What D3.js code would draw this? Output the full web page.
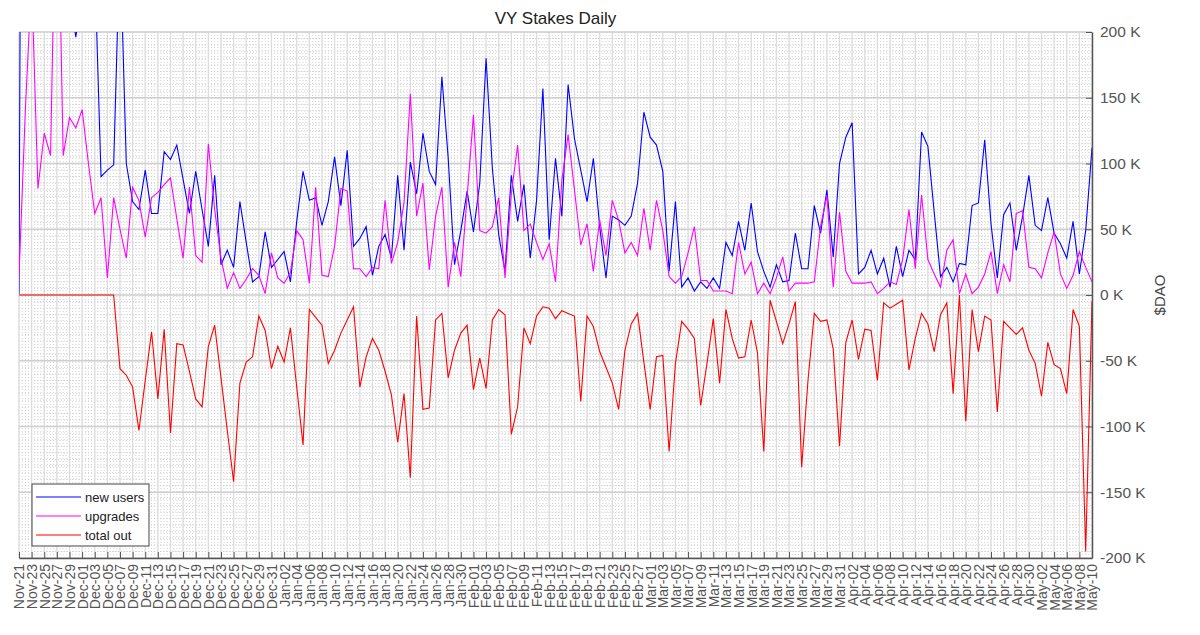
<!DOCTYPE html>
<html>
<head>
<meta charset="utf-8">
<script src="https://cdn.jsdelivr.net/npm/d3@7"></script>
<style>
  body { margin: 0; background: #fff; }
  svg { font-family: "Liberation Sans", Arial, sans-serif; }
</style>
</head>
<body>
<svg id="chart" width="1200" height="635"></svg>
<script>
// daily values in thousands of $DAO, Nov-21 .. May-10
const startDate = new Date(Date.UTC(2021, 10, 21))
const endDate = new Date(Date.UTC(2022, 4, 10))

const newUsers = [
  1, 1200, 900, 700, 600, 500, 450, 400, 230, 196,
  230, 300, 250, 90, 95, 99, 270, 100, 71, 65,
  95, 62, 62, 109, 103, 114, 88, 62, 94, 65,
  37, 91, 23, 34, 21, 71, 40, 10, 14, 48,
  21, 27, 33, 10, 56, 94, 72, 74, 53, 71,
  105, 68, 110, 37, 43, 52, 15, 37, 46, 28,
  91, 34, 101, 77, 123, 94, 84, 166, 104, 23,
  49, 79, 48, 85, 180, 96, 46, 18, 91, 56,
  84, 28, 72, 157, 42, 104, 60, 160, 119, 95,
  71, 104, 52, 13, 60, 57, 53, 60, 85, 139,
  120, 114, 94, 18, 71, 6, 13, 3, 10, 5,
  13, 5, 40, 30, 56, 34, 70, 33, 18, 6,
  23, 10, 11, 47, 20, 20, 68, 47, 80, 29,
  100, 120, 131, 16, 21, 34, 16, 28, 6, 37,
  14, 34, 27, 124, 113, 63, 14, 21, 10, 24,
  23, 68, 70, 118, 54, 13, 61, 70, 34, 60,
  91, 53, 49, 74, 47, 39, 28, 56, 16, 49,
  112
]

const upgrades = [
  14, 140, 240, 81, 123, 106, 360, 106, 135, 127,
  141, 100, 62, 74, 13, 74, 50, 28, 82, 72,
  44, 74, 78, 84, 89, 58, 28, 82, 30, 25,
  115, 65, 28, 5, 17, 5, 12, 20, 15, 1,
  32, 13, 9, 17, 49, 42, 9, 82, 15, 14,
  37, 81, 79, 20, 20, 14, 21, 20, 72, 24,
  40, 70, 153, 60, 85, 19, 60, 82, 6, 40,
  14, 75, 137, 49, 47, 52, 74, 13, 77, 114,
  49, 54, 40, 27, 39, 10, 87, 122, 80, 38,
  54, 18, 57, 30, 72, 57, 32, 40, 30, 66,
  34, 72, 49, 14, 9, 14, 32, 52, 11, 11,
  3, 3, 3, 1, 40, 16, 25, 1, 9, 1,
  13, 29, 3, 9, 9, 9, 10, 52, 76, 6,
  63, 18, 9, 9, 9, 10, 1, 5, 10, 8,
  27, 65, 20, 76, 27, 16, 6, 34, 42, 1,
  16, 1, 6, 16, 33, 1, 23, 10, 62, 64,
  21, 20, 13, 32, 48, 16, 5, 15, 33, 21,
  10
]

const totalOut = [
  0, 0, 0, 0, 0, 0, 0, 0, 0, 0,
  0, 0, 0, 0, 0, 0, -56, -61, -70, -103,
  -65, -28, -79, -26, -105, -37, -38, -58, -79, -85,
  -39, -23, -63, -103, -142, -67, -51, -47, -16, -27,
  -56, -39, -51, -25, -70, -114, -11, -17, -23, -52,
  -42, -29, -19, -9, -70, -47, -33, -42, -58, -76,
  -112, -75, -139, -16, -87, -86, -19, -14, -63, -42,
  -29, -23, -72, -48, -71, -19, -11, -15, -106, -85,
  -25, -37, -16, -9, -10, -18, -12, -14, -16, -81,
  -16, -24, -43, -55, -67, -87, -42, -22, -14, -51,
  -87, -47, -46, -119, -52, -20, -26, -33, -84, -52,
  -18, -67, -11, -33, -48, -47, -19, -44, -119, -4,
  -20, -37, -22, -5, -131, -65, -14, -20, -19, -41,
  -115, -36, -19, -49, -26, -27, -65, -6, -10, -7,
  -4, -57, -33, -14, -22, -43, -15, -6, -75, 0,
  -96, -11, -43, -16, -19, -89, -20, -25, -30, -25,
  -42, -52, -77, -36, -53, -56, -75, -11, -24, -195,
  -5
]

const seriesNames = ['new users', 'upgrades', 'total out']
const seriesColors = ['#0000ff', '#ff00ff', '#ff0000']
const yTicks = [-200, -150, -100, -50, 0, 50, 100, 150, 200]

const margin = {top: 32, right: 108, bottom: 77, left: 19}
const W = 1200, H = 635
const width = W - margin.left - margin.right
const height = H - margin.top - margin.bottom

const dates = d3.utcDay.range(startDate, d3.utcDay.offset(endDate, 1))
const series = [newUsers, upgrades, totalOut]

const x = d3.scaleUtc().domain([startDate, endDate]).range([0, width])
const y = d3.scaleLinear().domain([-200, 200]).range([height, 0])

const svg = d3.select('#chart')
const g = svg.append('g').attr('transform', `translate(${margin.left},${margin.top})`)

// minor grid (dotted)
const minorX = d3.utcHour.every(12).range(startDate, endDate)
g.append('g').selectAll('line')
  .data(minorX)
  .join('line')
  .attr('x1', d => x(d)).attr('x2', d => x(d))
  .attr('y1', 0).attr('y2', height)
  .attr('stroke', '#c8c8c8')
  .attr('stroke-width', 0.8)
  .attr('stroke-dasharray', '1,2')

g.append('g').selectAll('line')
  .data(d3.range(-200, 201, 5))
  .join('line')
  .attr('x1', 0).attr('x2', width)
  .attr('y1', d => y(d)).attr('y2', d => y(d))
  .attr('stroke', '#c8c8c8')
  .attr('stroke-width', 0.8)
  .attr('stroke-dasharray', '1,2')

// major grid, one every two days
const tickDates = dates.filter((d, i) => i % 2 === 0)
g.append('g').selectAll('line')
  .data(tickDates)
  .join('line')
  .attr('x1', d => x(d)).attr('x2', d => x(d))
  .attr('y1', 0).attr('y2', height)
  .attr('stroke', '#dcdcdc')
  .attr('stroke-width', 1.3)

g.append('g').selectAll('line')
  .data(yTicks)
  .join('line')
  .attr('x1', 0).attr('x2', width)
  .attr('y1', d => y(d)).attr('y2', d => y(d))
  .attr('stroke', '#cfcfcf')
  .attr('stroke-width', 1.3)

// lines
g.append('clipPath').attr('id', 'clip')
  .append('rect').attr('width', width).attr('height', height)

const line = d3.line()
  .x((d, i) => x(dates[i]))
  .y(d => y(d))

g.append('g').attr('clip-path', 'url(#clip)')
  .selectAll('path')
  .data(series)
  .join('path')
  .attr('fill', 'none')
  .attr('stroke', (d, i) => seriesColors[i])
  .attr('stroke-width', 1.1)
  .attr('d', d => line(d))

// bottom axis
g.append('g')
  .attr('transform', `translate(0,${height})`)
  .call(d3.axisBottom(x).tickValues(tickDates).tickFormat(d3.utcFormat('%b-%d'))
    .tickSizeInner(-6).tickSizeOuter(0).tickPadding(6))
  .call(a => a.select('.domain').attr('stroke', '#555').attr('stroke-width', 1.5))
  .call(a => a.selectAll('.tick line').attr('stroke', '#555'))
  .selectAll('.tick text')
  .attr('transform', 'rotate(-90)')
  .attr('text-anchor', 'end')
  .attr('x', -6)
  .attr('y', 0)
  .attr('dy', '0.35em')
  .attr('fill', '#555')
  .style('font-size', '14px')

// right axis
g.append('g')
  .attr('transform', `translate(${width},0)`)
  .call(d3.axisRight(y).tickValues(yTicks).tickFormat(d => `${d} K`)
    .tickSizeInner(-6).tickSizeOuter(0).tickPadding(8))
  .call(a => a.select('.domain').attr('stroke', '#555').attr('stroke-width', 1.5))
  .call(a => a.selectAll('.tick line').attr('stroke', '#555'))
  .selectAll('.tick text')
  .attr('fill', '#555')
  .style('font-size', '15.5px')

svg.append('text')
  .attr('transform', `translate(${margin.left + width + 68},${margin.top + y(0)}) rotate(-90)`)
  .attr('text-anchor', 'middle')
  .attr('dy', '0.35em')
  .attr('fill', '#444')
  .style('font-size', '15px')
  .text('$DAO')

svg.append('text')
  .attr('x', margin.left + width / 2)
  .attr('y', 24)
  .attr('text-anchor', 'middle')
  .attr('fill', '#222')
  .style('font-size', '17px')
  .text('VY Stakes Daily')

// legend
const legend = svg.append('g').attr('transform', 'translate(32,484)')
legend.append('rect')
  .attr('width', 117).attr('height', 62)
  .attr('fill', '#fff')
  .attr('stroke', '#444')
  .attr('stroke-width', 1)
seriesNames.forEach((name, i) => {
  const row = legend.append('g').attr('transform', `translate(0,${13 + i * 19})`)
  row.append('line')
    .attr('x1', 4).attr('x2', 49)
    .attr('stroke', seriesColors[i]).attr('stroke-width', 1.1)
  row.append('text')
    .attr('x', 53).attr('dy', '0.35em')
    .attr('fill', '#222')
    .style('font-size', '13px')
    .text(name)
})
</script>
</body>
</html>
